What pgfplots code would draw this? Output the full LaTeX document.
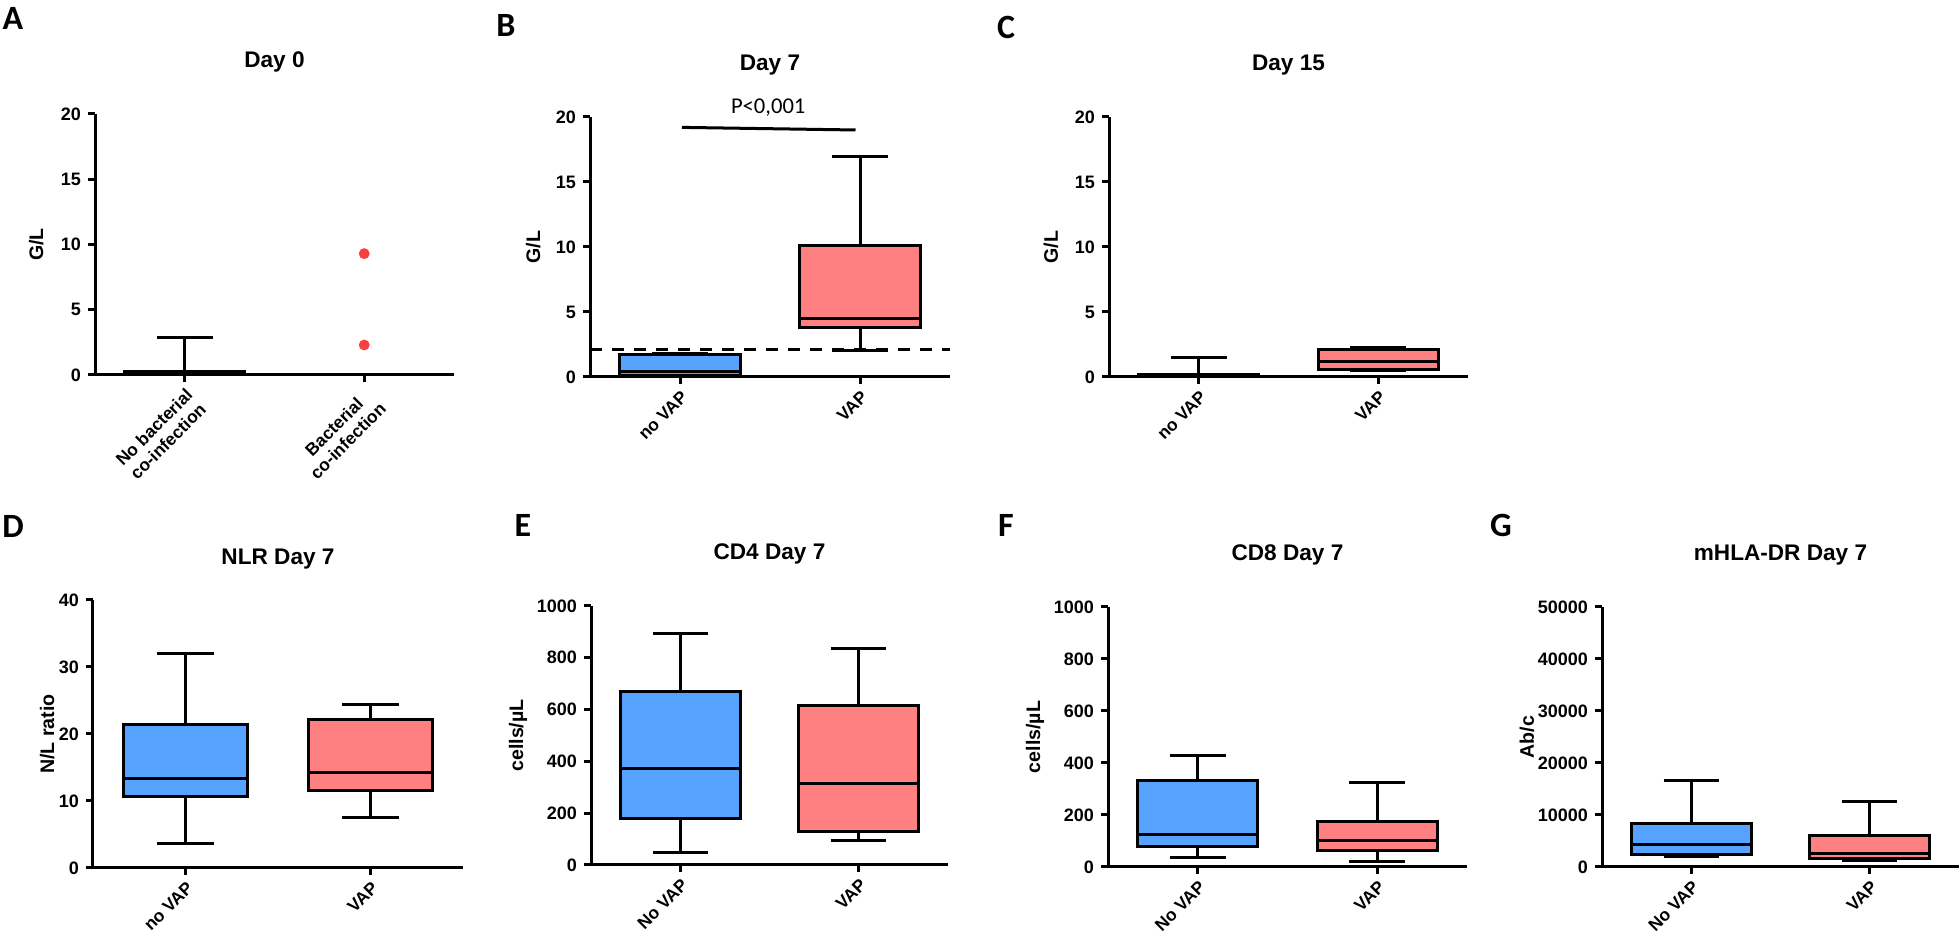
\documentclass[border=0pt]{standalone}
\usepackage{fontspec}
\setmainfont{Liberation Sans}
\newfontfamily\carlito{Carlito}
\usepackage{pgfplots}
\pgfplotsset{compat=1.18}

\definecolor{cblue}{RGB}{86,162,255}
\definecolor{cred}{RGB}{255,128,128}
\definecolor{cdot}{RGB}{248,64,64}

\pgfplotsset{
 panel/.style={
  scale only axis, anchor=south west,
  xmin=-0.5, xmax=1.5, xtick={0,1},
  axis x line*=bottom, axis y line*=left,
  axis line style={line width=1.5pt, -},
  tick style={line width=1.5pt, black},
  major tick length=3.5pt,
  tick align=outside,
  ymin=0,
  clip=false,
  scaled y ticks=false,
  yticklabel style={font=\bfseries\fontsize{9}{10}\selectfont, /pgf/number format/assume math mode=true, /pgf/number format/1000 sep={}},
  xticklabel style={font=\bfseries\fontsize{8.7}{9.8}\selectfont, rotate=45, anchor=north east, align=center, inner sep=1.8pt},
  title style={font=\bfseries\fontsize{11.3}{13}\selectfont, at={(axis description cs:0.5,1)}, anchor=center, yshift=20pt},
  every axis y label/.style={font=\bfseries\fontsize{9.8}{11}\selectfont, rotate=90, anchor=center},
 },
 ln/.style={black, line width=1.5pt},
}
% box at x=0: lower whisker, q1, median, q3, upper whisker, colour
\newcommand{\bxL}[6]{%
 \addplot[ln] coordinates {(0,#1) (0,#2)};
 \addplot[ln] coordinates {(0,#4) (0,#5)};
 \addplot[ln, fill=#6] coordinates {(-0.335,#2) (0.335,#2) (0.335,#4) (-0.335,#4)} -- cycle;
 \addplot[ln] coordinates {(-0.335,#3) (0.335,#3)};
 \addplot[ln] coordinates {(-0.155,#1) (0.155,#1)};
 \addplot[ln] coordinates {(-0.155,#5) (0.155,#5)};
}
% box at x=1
\newcommand{\bxR}[6]{%
 \addplot[ln] coordinates {(1,#1) (1,#2)};
 \addplot[ln] coordinates {(1,#4) (1,#5)};
 \addplot[ln, fill=#6] coordinates {(0.665,#2) (1.335,#2) (1.335,#4) (0.665,#4)} -- cycle;
 \addplot[ln] coordinates {(0.665,#3) (1.335,#3)};
 \addplot[ln] coordinates {(0.845,#1) (1.155,#1)};
 \addplot[ln] coordinates {(0.845,#5) (1.155,#5)};
}
\newcommand{\plet}[3]{\node[font=\carlito\bfseries\fontsize{17}{17}\selectfont, inner sep=0pt] at (#1pt,#2pt) {#3};}

\begin{document}
\begin{tikzpicture}
\path[use as bounding box] (0,0) rectangle (980pt,470pt);

% ---------- A ----------
\begin{axis}[panel, at={(47.5pt,282.5pt)}, width=179.5pt, height=130.5pt,
  ymax=20, ytick={0,5,10,15,20}, title={Day 0}, ylabel={G/L},
  ylabel style={at={(axis description cs:-0.164,0.5)}},
  xticklabels={{No bacterial\\co-infection},{Bacterial\\co-infection}}]
\bxL{0}{0}{0.1}{0.3}{2.9}{cblue}
\addplot[only marks, mark=*, mark size=2.5pt, color=cdot] coordinates {(1,9.3) (1,2.3)};
\end{axis}

% ---------- B ----------
\begin{axis}[panel, at={(295pt,281.5pt)}, width=180pt, height=130pt,
  ymax=20, ytick={0,5,10,15,20}, title={Day 7}, ylabel={G/L},
  ylabel style={at={(axis description cs:-0.158,0.5)}},
  xticklabels={no VAP,VAP}]
\bxL{0.1}{0.15}{0.45}{1.7}{1.8}{cblue}
\bxR{2.05}{3.8}{4.5}{10.1}{16.95}{cred}
\addplot[black, line width=1.5pt, dash pattern=on 6pt off 5pt] coordinates {(-0.5,2.1) (1.5,2.1)};
\addplot[ln] coordinates {(0.01,19.2) (0.975,19.0)};
\node[font=\carlito\fontsize{11.3}{12}\selectfont] at (axis cs:0.49,20.75) {P<0,001};
\end{axis}

% ---------- C ----------
\begin{axis}[panel, at={(554.5pt,281.5pt)}, width=179.5pt, height=130pt,
  ymax=20, ytick={0,5,10,15,20}, title={Day 15}, ylabel={G/L},
  ylabel style={at={(axis description cs:-0.162,0.5)}},
  xticklabels={no VAP,VAP}]
\bxL{0}{0}{0.08}{0.2}{1.5}{cblue}
\bxR{0.48}{0.6}{1.2}{2.1}{2.3}{cred}
\end{axis}

% ---------- D ----------
\begin{axis}[panel, at={(46.5pt,36pt)}, width=185pt, height=134pt,
  ymax=40, ytick={0,10,20,30,40}, title={NLR Day 7}, title style={yshift=-5.5pt}, ylabel={N/L ratio},
  ylabel style={at={(axis description cs:-0.124,0.5)}},
  xticklabels={no VAP,VAP}]
\bxL{3.6}{10.6}{13.4}{21.4}{32.0}{cblue}
\bxR{7.6}{11.6}{14.2}{22.1}{24.4}{cred}
\end{axis}

% ---------- E ----------
\begin{axis}[panel, at={(295.5pt,37.5pt)}, width=178.5pt, height=129.5pt,
  ymax=1000, ytick={0,200,400,600,800,1000}, title={CD4 Day 7}, ylabel={cells/µL},
  ylabel style={at={(axis description cs:-0.204,0.5)}},
  xticklabels={No VAP,VAP}]
\bxL{49}{181}{371}{668}{892}{cblue}
\bxR{95}{131}{315}{617}{836}{cred}
\end{axis}

% ---------- F ----------
\begin{axis}[panel, at={(554pt,36.5pt)}, width=179.5pt, height=130pt,
  ymax=1000, ytick={0,200,400,600,800,1000}, title={CD8 Day 7}, ylabel={cells/µL},
  ylabel style={at={(axis description cs:-0.203,0.5)}},
  xticklabels={No VAP,VAP}]
\bxL{36}{79}{126}{332}{427}{cblue}
\bxR{20}{65}{103}{176}{326}{cred}
\end{axis}

% ---------- G ----------
\begin{axis}[panel, at={(801pt,36.5pt)}, width=178.5pt, height=130pt,
  ymax=50000, ytick={0,10000,20000,30000,40000,50000}, title={mHLA-DR Day 7}, ylabel={Ab/c},
  ylabel style={at={(axis description cs:-0.21,0.5)}},
  xticklabels={No VAP,VAP}]
\bxL{2100}{2440}{4230}{8400}{16700}{cblue}
\bxR{1200}{1670}{2500}{6080}{12500}{cred}
\end{axis}

\plet{6.5}{461}{A}
\plet{253}{457.5}{B}
\plet{503}{456.5}{C}
\plet{6.5}{207}{D}
\plet{261.5}{207.5}{E}
\plet{503}{207.5}{F}
\plet{750.5}{207.5}{G}
\end{tikzpicture}
\end{document}
